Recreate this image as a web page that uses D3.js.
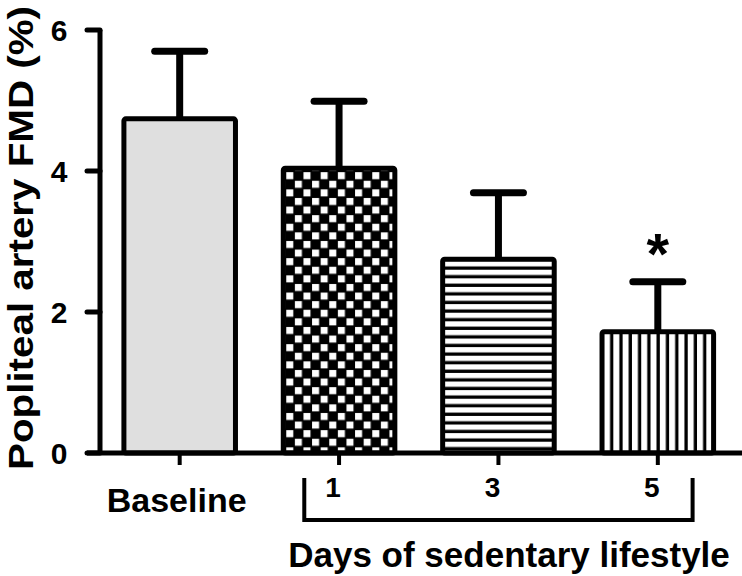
<!DOCTYPE html>
<html>
<head>
<meta charset="utf-8">
<script src="https://cdn.jsdelivr.net/npm/d3@7"></script>
<style>
  html, body { margin: 0; padding: 0; background: #ffffff; }
  svg { display: block; }
  text { font-family: "Liberation Sans", Arial, sans-serif; font-weight: bold; fill: #000; }
</style>
</head>
<body>
<svg id="chart" width="742" height="576"></svg>
<script>
// ---- data ----
const categories = ["Baseline", "1", "3", "5"];
const means      = [4.74, 4.04, 2.75, 1.72];
const errors     = [0.96, 0.95, 0.94, 0.71];
const fills      = ["gray", "checker", "hstripes", "vstripes"];
const yTicks     = [0, 2, 4, 6];
const significant = [false, false, false, true];
const yLabel = "Popliteal artery FMD (%)";
const xLabel = "Days of sedentary lifestyle";
const groupedDays = ["1", "3", "5"];

const svg = d3.select("#chart");

const x = d3.scaleBand()
  .domain(categories)
  .range([100, 737.5])
  .paddingInner(0.3)
  .paddingOuter(0.15);

const y = d3.scaleLinear().domain([0, 6]).range([453, 30]);

// ---- patterns ----
const defs = svg.append("defs");
const p1 = defs.append("pattern").attr("id", "checker")
  .attr("patternUnits", "userSpaceOnUse")
  .attr("x", x("1") + 2).attr("y", y(means[1]) + 3)
  .attr("width", 17.2).attr("height", 17.2);
p1.append("rect").attr("width", 17.2).attr("height", 17.2).attr("fill", "#000");
p1.append("rect").attr("x", 1).attr("y", 1).attr("width", 7).attr("height", 7).attr("fill", "#fff");
p1.append("rect").attr("x", 9.6).attr("y", 9.6).attr("width", 7).attr("height", 7).attr("fill", "#fff");

const p2 = defs.append("pattern").attr("id", "hstripes")
  .attr("patternUnits", "userSpaceOnUse")
  .attr("x", 0).attr("y", y(means[2]) + 2)
  .attr("width", 10).attr("height", 8.6);
p2.append("rect").attr("width", 10).attr("height", 8.6).attr("fill", "#fff");
p2.append("rect").attr("y", 5.3).attr("width", 10).attr("height", 3.3).attr("fill", "#000");

const p3 = defs.append("pattern").attr("id", "vstripes")
  .attr("patternUnits", "userSpaceOnUse")
  .attr("x", x("5") + 2).attr("y", 0)
  .attr("width", 9.3).attr("height", 10);
p3.append("rect").attr("width", 9.3).attr("height", 10).attr("fill", "#fff");
p3.append("rect").attr("x", 6).attr("width", 3.3).attr("height", 10).attr("fill", "#000");

function fillFor(f) {
  if (f === "gray") return "#dfdfdf";
  return "url(#" + f + ")";
}

// ---- bars ----
const bw = x.bandwidth();
svg.append("g").selectAll("rect")
  .data(categories)
  .join("rect")
  .attr("x", d => x(d))
  .attr("y", (d, i) => y(means[i]))
  .attr("width", bw)
  .attr("height", (d, i) => y(0) - y(means[i]))
  .attr("fill", (d, i) => fillFor(fills[i]))
  .attr("stroke", "#000")
  .attr("stroke-width", 5)
  .attr("rx", 2);

// ---- error bars ----
const eg = svg.append("g").attr("stroke", "#000");
categories.forEach((c, i) => {
  const cx = x(c) + bw / 2;
  eg.append("line")
    .attr("x1", cx).attr("x2", cx)
    .attr("y1", y(means[i])).attr("y2", y(means[i] + errors[i]))
    .attr("stroke-width", 7);
  eg.append("line")
    .attr("x1", cx - 25).attr("x2", cx + 25)
    .attr("y1", y(means[i] + errors[i])).attr("y2", y(means[i] + errors[i]))
    .attr("stroke-width", 7)
    .attr("stroke-linecap", "round");
  if (significant[i]) {
    svg.append("text")
      .attr("x", cx).attr("y", y(means[i] + errors[i]) - 8)
      .attr("text-anchor", "middle")
      .style("font-size", "58px")
      .text("*");
  }
});

// ---- y axis ----
const ya = svg.append("g");
ya.append("line").attr("x1", 100).attr("x2", 100)
  .attr("y1", y(6)).attr("y2", y(0) + 2)
  .attr("stroke", "#000").attr("stroke-width", 5);
ya.selectAll("line.tick").data(yTicks).join("line")
  .attr("class", "tick")
  .attr("x1", 87).attr("x2", 100)
  .attr("y1", d => y(d)).attr("y2", d => y(d))
  .attr("stroke", "#000").attr("stroke-width", 5).attr("stroke-linecap", "round");
ya.selectAll("text").data(yTicks).join("text")
  .attr("x", 59).attr("y", d => y(d) + 11)
  .attr("text-anchor", "middle")
  .style("font-size", "30px")
  .text(d => d);

// ---- x axis ----
svg.append("line").attr("x1", 87).attr("x2", 742)
  .attr("y1", y(0)).attr("y2", y(0))
  .attr("stroke", "#000").attr("stroke-width", 5);
svg.append("g").selectAll("line").data(categories).join("line")
  .attr("x1", d => x(d) + bw / 2).attr("x2", d => x(d) + bw / 2)
  .attr("y1", y(0)).attr("y2", y(0) + 12)
  .attr("stroke", "#000").attr("stroke-width", 4);

svg.append("text")
  .attr("x", x("Baseline") + bw / 2 - 3).attr("y", 512)
  .attr("text-anchor", "middle")
  .style("font-size", "34px")
  .text("Baseline");

svg.append("g").selectAll("text").data(groupedDays).join("text")
  .attr("x", d => x(d) + bw / 2 - 6).attr("y", 497)
  .attr("text-anchor", "middle")
  .style("font-size", "28px")
  .text(d => d);

// bracket
const bl = x("1") + 21, br = x("5") + bw - 21;
svg.append("path")
  .attr("d", `M${bl},478 L${bl},520 L${br},520 L${br},478`)
  .attr("fill", "none").attr("stroke", "#000").attr("stroke-width", 4);

svg.append("text")
  .attr("x", 509).attr("y", 567)
  .attr("text-anchor", "middle")
  .style("font-size", "35px")
  .text(xLabel);

svg.append("text")
  .attr("transform", "translate(33,238) rotate(-90)")
  .attr("text-anchor", "middle")
  .attr("textLength", 464)
  .attr("lengthAdjust", "spacingAndGlyphs")
  .style("font-size", "35px")
  .text(yLabel);
</script>
</body>
</html>
